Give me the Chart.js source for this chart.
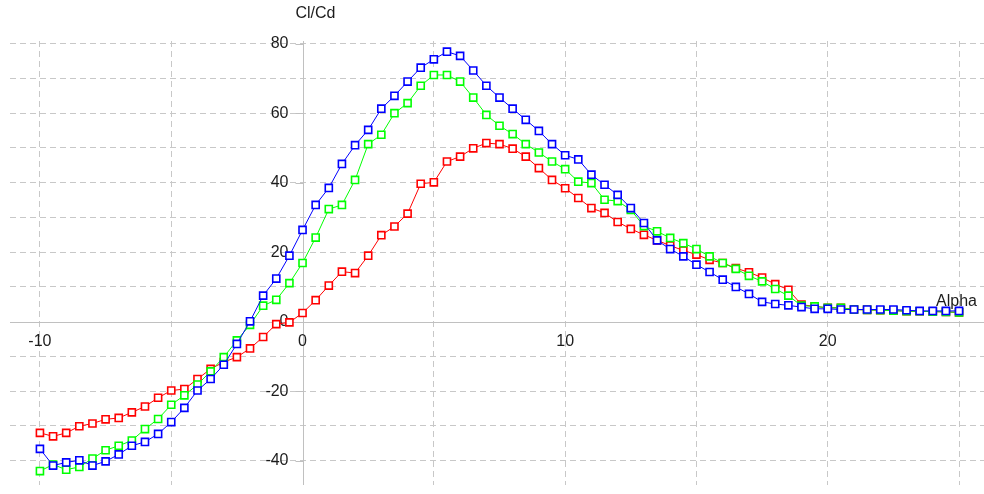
<!DOCTYPE html>
<html>
<head>
<meta charset="utf-8">
<script src="https://cdn.jsdelivr.net/npm/chart.js@4.4.1/dist/chart.umd.min.js"></script>
<style>
  html, body { margin: 0; padding: 0; background: #fff; }
  #wrap { width: 984px; height: 494px; }
</style>
</head>
<body>
<div id="wrap"><canvas id="chart" width="984" height="494"></canvas></div>
<script>
// angle of attack, every 0.5 deg
const alpha = [
  -10, -9.5, -9, -8.5, -8, -7.5, -7, -6.5, -6, -5.5, -5, -4.5, -4, -3.5, -3, -2.5, -2, -1.5, -1, -0.5,
  0, 0.5, 1, 1.5, 2, 2.5, 3, 3.5, 4, 4.5, 5, 5.5, 6, 6.5, 7, 7.5, 8, 8.5, 9, 9.5,
  10, 10.5, 11, 11.5, 12, 12.5, 13, 13.5, 14, 14.5, 15, 15.5, 16, 16.5, 17, 17.5, 18, 18.5, 19, 19.5,
  20, 20.5, 21, 21.5, 22, 22.5, 23, 23.5, 24, 24.5, 25
]

const blueClCd = [
  -36.6, -41.4, -40.5, -39.9, -41.4, -40.2, -38.2, -35.7, -34.6, -32.3, -28.9, -24.8, -19.8, -16.5, -12.4, -6.4, 0.1, 7.5, 12.4, 19.0,
  26.4, 33.6, 38.5, 45.4, 50.8, 55.2, 61.3, 65.0, 69.1, 73.1, 75.5, 77.7, 76.5, 72.3, 67.9, 64.5, 61.3, 58.1, 54.9, 51.1,
  47.9, 46.7, 42.3, 39.4, 36.5, 32.7, 28.4, 23.4, 20.9, 18.8, 16.4, 14.3, 12.1, 10.0, 8.0, 5.7, 5.1, 4.7, 4.2, 3.7,
  3.7, 3.5, 3.5, 3.5, 3.5, 3.5, 3.3, 3.1, 3.1, 3.1, 3.1
]

const greenClCd = [
  -43.0, -41.1, -42.6, -41.8, -39.4, -37.0, -35.7, -34.2, -30.9, -28.0, -23.9, -21.2, -18.1, -14.3, -10.2, -5.4, -0.9, 4.6, 6.3, 11.1,
  16.9, 24.2, 32.4, 33.6, 40.8, 51.1, 53.8, 60.0, 62.9, 67.9, 71.0, 71.0, 69.1, 64.5, 59.5, 56.4, 54.0, 51.1, 48.7, 46.1,
  43.9, 40.3, 39.9, 35.1, 34.7, 32.2, 27.5, 26.0, 24.1, 22.6, 20.9, 18.8, 16.9, 15.2, 13.2, 11.6, 9.4, 7.5, 4.6, 4.4,
  4.0, 4.0, 3.5, 3.4, 3.3, 3.2, 3.0, 3.0, 2.9, 2.8, 2.7
]

const redClCd = [
  -32.0, -33.0, -32.0, -30.1, -29.3, -28.1, -27.7, -26.1, -24.4, -21.9, -19.8, -19.4, -16.5, -13.6, -11.6, -10.2, -7.7, -4.4, -0.7, -0.2,
  2.5, 6.2, 10.4, 14.4, 14.0, 19.0, 24.9, 27.4, 31.1, 39.7, 40.1, 46.1, 47.5, 49.9, 51.4, 51.1, 49.8, 47.5, 44.2, 40.8,
  38.4, 35.6, 32.7, 31.3, 28.7, 26.7, 25.0, 23.4, 21.9, 20.5, 19.3, 17.8, 16.9, 15.4, 14.2, 12.7, 10.8, 9.2, 4.9, 4.4,
  4.0, 4.0, 3.5, 3.4, 3.3, 3.2, 3.0, 3.0, 2.9, 2.8, 2.7
]

// grid lines and tick labels
const xGridValues = [-10, -5, 0, 5, 10, 15, 20, 25]
const yGridValues = [-40, -30, -20, -10, 0, 10, 20, 30, 40, 50, 60, 70, 80]
const xTickLabels = [-10, 0, 10, 20]
const yTickLabels = [-40, -20, 0, 20, 40, 60, 80]

const FONT = '16px "Liberation Sans", Arial, sans-serif'
const TEXT_COLOR = "#1c1c1c"
const AXIS_COLOR = "#c0c0c0"
const GRID_COLOR = "#c8c8c8"

function series(values, color) {
  return {
    data: alpha.map((a, i) => ({ x: a, y: values[i] })),
    showLine: true,
    borderColor: color,
    borderWidth: 1,
    pointStyle: "rect",
    pointRadius: 5,
    pointBorderWidth: 1.6,
    pointBorderColor: color,
    pointBackgroundColor: "#ffffff",
  }
}

// axes through the origin, with their labels
const originAxes = {
  id: "originAxes",
  beforeDatasetsDraw(chart) {
    const { ctx, chartArea, scales } = chart
    const x0 = Math.round(scales.x.getPixelForValue(0)) + 0.5
    const y0 = Math.round(scales.y.getPixelForValue(0)) + 0.5
    ctx.save()
    ctx.strokeStyle = AXIS_COLOR
    ctx.lineWidth = 1
    ctx.beginPath()
    ctx.moveTo(chartArea.left, y0)
    ctx.lineTo(chartArea.right, y0)
    ctx.moveTo(x0, chartArea.top)
    ctx.lineTo(x0, chartArea.bottom)
    yTickLabels.forEach((v) => {
      const py = Math.round(scales.y.getPixelForValue(v)) + 0.5
      ctx.moveTo(x0 - 8, py)
      ctx.lineTo(x0, py)
    })
    ctx.stroke()

    ctx.fillStyle = TEXT_COLOR
    ctx.font = FONT
    ctx.textBaseline = "middle"
    ctx.textAlign = "right"
    yTickLabels.forEach((v) => {
      ctx.fillText(String(v), x0 - 15, scales.y.getPixelForValue(v))
    })
    ctx.textAlign = "center"
    xTickLabels.forEach((v) => {
      ctx.fillText(String(v), scales.x.getPixelForValue(v), y0 + 19)
    })
    ctx.textAlign = "left"
    ctx.fillText("Cl/Cd", x0 - 8, 14)
    ctx.fillText("Alpha", chartArea.right - 48, y0 - 21)
    ctx.restore()
  },
}

const gridColor = (ctx) => (ctx.tick && ctx.tick.value === 0 ? "rgba(0,0,0,0)" : GRID_COLOR)

new Chart(document.getElementById("chart"), {
  type: "scatter",
  data: {
    // first dataset is drawn on top
    datasets: [series(blueClCd, "#0000ff"), series(greenClCd, "#00ff00"), series(redClCd, "#ff0000")],
  },
  options: {
    responsive: false,
    animation: false,
    events: [],
    layout: { autoPadding: false, padding: { left: 10, right: 0, top: 41, bottom: 9 } },
    plugins: { legend: { display: false }, tooltip: { enabled: false } },
    scales: {
      x: {
        type: "linear",
        min: -11.14,
        max: 25.95,
        afterBuildTicks: (scale) => {
          scale.ticks = xGridValues.map((v) => ({ value: v }))
        },
        ticks: { display: false },
        grid: { color: gridColor, lineWidth: 1, drawTicks: false },
        border: { display: false, dash: [6, 4] },
      },
      y: {
        type: "linear",
        min: -47.0,
        max: 80.78,
        afterBuildTicks: (scale) => {
          scale.ticks = yGridValues.map((v) => ({ value: v }))
        },
        ticks: { display: false },
        grid: { color: gridColor, lineWidth: 1, drawTicks: false },
        border: { display: false, dash: [6, 4] },
      },
    },
  },
  plugins: [originAxes],
})
</script>
</body>
</html>
